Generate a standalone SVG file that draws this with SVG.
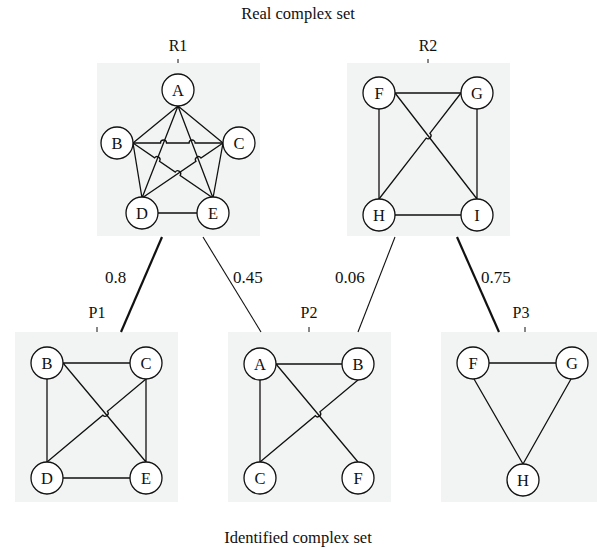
<svg xmlns="http://www.w3.org/2000/svg" width="597" height="550" viewBox="0 0 597 550">
<style>
text{font-family:"Liberation Serif","DejaVu Serif",serif;fill:#111;}
.t{font-size:16.5px;text-anchor:middle;}
.lb{font-size:16px;text-anchor:middle;}
.el{font-size:17px;}
.nl{font-size:16.5px;text-anchor:middle;}
.box{fill:#f2f3f3;stroke:none;}
.n{fill:#fff;stroke:#111;stroke-width:1.3;}
.e{fill:none;stroke:#111;stroke-width:1.3;}
.c1{fill:none;stroke:#111;stroke-width:1.1;}
.c2{fill:none;stroke:#111;stroke-width:2.2;}
.tick{stroke:#111;stroke-width:1;}
</style>
<text class="t" x="298" y="19">Real complex set</text>
<text class="t" x="298" y="543">Identified complex set</text>

<g id="R1">
<rect class="box" x="97" y="63" width="163" height="173"/>
<text class="lb" x="178" y="51">R1</text>
<line class="tick" x1="178" y1="59" x2="178" y2="63"/>
<g>
<path class="e" d="M178,106 L133,143 M178,106 L223,143 M178,106 L142,198 M178,106 L213,198 M133,143 L142,198 M223,143 L213,198 M158,213 L197,213"/>
<path class="e" d="M133,143 H160.5 A3,3 0 0 1 166.5,143 H189.1 A3,3 0 0 1 195.1,143 H223"/>
<path class="e" d="M133,143 L154.58,157.83 A3,3 0 0 1 159.52,161.23 L175.25,172.05 A3,3 0 0 1 180.19,175.45 L213,198"/>
<path class="e" d="M223,143 L200.91,158 A3,3 0 0 0 195.95,161.38 L142,198"/>
</g>
<g id="R1-A"><circle class="n" cx="178" cy="90" r="16"/><text class="nl" x="178" y="95.5">A</text></g>
<g id="R1-B"><circle class="n" cx="117" cy="143" r="16"/><text class="nl" x="117" y="148.5">B</text></g>
<g id="R1-C"><circle class="n" cx="239" cy="143" r="16"/><text class="nl" x="239" y="148.5">C</text></g>
<g id="R1-D"><circle class="n" cx="142" cy="213" r="16"/><text class="nl" x="142" y="218.5">D</text></g>
<g id="R1-E"><circle class="n" cx="213" cy="213" r="16"/><text class="nl" x="213" y="218.5">E</text></g>
</g>

<g id="R2">
<rect class="box" x="347" y="63" width="163" height="173"/>
<text class="lb" x="428" y="51">R2</text>
<line class="tick" x1="428" y1="59" x2="428" y2="63"/>
<path class="e" d="M395,93 L461,93 M379,109 L379,199 M477,109 L477,199 M395,215 L461,215 M395,93 L477,199"/>
<path class="e" d="M461,93 L429.84,133.33 A3,3 0 0 1 426.16,138.07 L379,199"/>
<g id="R2-F"><circle class="n" cx="379" cy="93" r="16"/><text class="nl" x="379" y="98.5">F</text></g>
<g id="R2-G"><circle class="n" cx="477" cy="93" r="16"/><text class="nl" x="477" y="98.5">G</text></g>
<g id="R2-H"><circle class="n" cx="379" cy="215" r="16"/><text class="nl" x="379" y="220.5">H</text></g>
<g id="R2-I"><circle class="n" cx="477" cy="215" r="16"/><text class="nl" x="477" y="220.5">I</text></g>
</g>

<g id="P1">
<rect class="box" x="15" y="332" width="163" height="170"/>
<text class="lb" x="97" y="318">P1</text>
<line class="tick" x1="97" y1="327" x2="97" y2="332"/>
<path class="e" d="M63,363 L130,363 M47,379 L47,462 M146,379 L146,462 M63,478 L130,478 M63,363 L146,462"/>
<path class="e" d="M146,379 L107.43,411.33 A3,3 0 0 1 102.83,415.19 L47,462"/>
<g id="P1-B"><circle class="n" cx="47" cy="363" r="16"/><text class="nl" x="47" y="368.5">B</text></g>
<g id="P1-C"><circle class="n" cx="146" cy="363" r="16"/><text class="nl" x="146" y="368.5">C</text></g>
<g id="P1-D"><circle class="n" cx="47" cy="478" r="16"/><text class="nl" x="47" y="483.5">D</text></g>
<g id="P1-E"><circle class="n" cx="146" cy="478" r="16"/><text class="nl" x="146" y="483.5">E</text></g>
</g>

<g id="P2">
<rect class="box" x="228" y="332" width="163" height="170"/>
<text class="lb" x="309" y="318">P2</text>
<line class="tick" x1="309" y1="327" x2="309" y2="332"/>
<path class="e" d="M276,364 L342,364 M260,380 L260,462 M276,364 L358,462"/>
<path class="e" d="M358,380 L319.94,411.84 A3,3 0 0 1 315.34,415.7 L260,462"/>
<g id="P2-A"><circle class="n" cx="260" cy="364" r="16"/><text class="nl" x="260" y="369.5">A</text></g>
<g id="P2-B"><circle class="n" cx="358" cy="364" r="16"/><text class="nl" x="358" y="369.5">B</text></g>
<g id="P2-C"><circle class="n" cx="260" cy="478" r="16"/><text class="nl" x="260" y="483.5">C</text></g>
<g id="P2-F"><circle class="n" cx="358" cy="478" r="16"/><text class="nl" x="358" y="483.5">F</text></g>
</g>

<g id="P3">
<rect class="box" x="441" y="332" width="163" height="170"/>
<text class="lb" x="521" y="318">P3</text>
<line class="tick" x1="525" y1="327" x2="525" y2="332"/>
<path class="e" d="M489,363 L556,363 M474,379 L523,464 M571,379 L523,464"/>
<g id="P3-F"><circle class="n" cx="473" cy="363" r="16"/><text class="nl" x="473" y="368.5">F</text></g>
<g id="P3-G"><circle class="n" cx="572" cy="363" r="16"/><text class="nl" x="572" y="368.5">G</text></g>
<g id="P3-H"><circle class="n" cx="523" cy="480" r="16"/><text class="nl" x="523" y="485.5">H</text></g>
</g>

<g id="connectors">
<line class="c2" x1="162" y1="237" x2="121" y2="332"/>
<line class="c1" x1="203" y1="237" x2="261" y2="332"/>
<line class="c1" x1="395" y1="237" x2="358" y2="332"/>
<line class="c2" x1="457" y1="237" x2="499" y2="332"/>
<text class="el" x="105" y="283">0.8</text>
<text class="el" x="233" y="283">0.45</text>
<text class="el" x="335" y="283">0.06</text>
<text class="el" x="481" y="283">0.75</text>
</g>
</svg>
